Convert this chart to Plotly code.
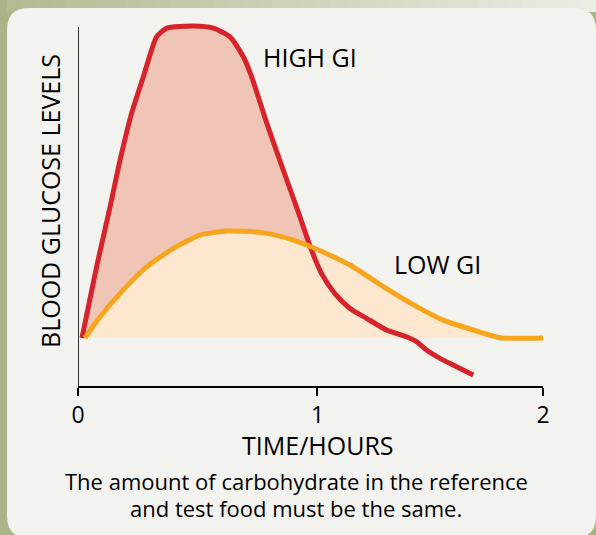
import numpy as np
import plotly.graph_objects as go

# ---------------- data ----------------
high_gi_time = [0.017, 0.080, 0.138, 0.181, 0.231, 0.281, 0.338, 0.382, 0.496, 0.582,
                0.654, 0.711, 0.747, 0.812, 0.898, 0.946, 1.004, 1.047, 1.104, 1.170,
                1.241, 1.327, 1.413, 1.456, 1.499, 1.557, 1.628, 1.700]
high_gi_level = [0, 23.1, 42.6, 57.8, 73.1, 84.8, 97.8, 100.6, 101.3, 100.6,
                 97.8, 91.3, 84.8, 69.7, 51.3, 41.2, 28.6, 21.0, 14.5, 9.6,
                 6.4, 2.6, 0.4, -1.2, -3.9, -6.6, -9.3, -12.0]
low_gi_time = [0.030, 0.095, 0.181, 0.295, 0.410, 0.525, 0.640, 0.783, 0.869, 0.984,
               1.098, 1.170, 1.313, 1.457, 1.571, 1.700, 1.815, 2.000]
low_gi_level = [0, 6.9, 14.5, 23.1, 29.1, 33.4, 34.7, 34.3, 33.1, 30.2,
                26.4, 23.7, 16.7, 10.2, 5.8, 2.6, 0.1, 0]
x_tick_vals = [0, 1.03, 2]          # the "1" mark sits slightly right of centre in the artwork
x_tick_text = ["0", "1", "2"]

# ---------------- geometry helpers ----------------
W, H = 596, 535
L, R, T, B = 78, 53, 18, 149
PW, PH = W - L - R, H - T - B


def fx(px):
    return (px - L) / PW


def fy(py):
    return (H - B - py) / PH


FONT = "Open Sans"
RED = "#d6232c"
ORANGE = "#f7a51c"
PINK = "#f0c5b5"
CREAM = "#fde8cf"

fig = go.Figure()

red_clipped = np.maximum(np.array(high_gi_level, dtype=float), 0)
fig.add_trace(go.Scatter(x=high_gi_time, y=red_clipped, mode="lines",
                         line=dict(width=0, shape="spline", smoothing=0.6),
                         fill="tozeroy", fillcolor=PINK, hoverinfo="skip"))
fig.add_trace(go.Scatter(x=low_gi_time, y=low_gi_level, mode="lines",
                         line=dict(width=0, shape="spline", smoothing=0.6),
                         fill="tozeroy", fillcolor=CREAM, hoverinfo="skip"))
fig.add_trace(go.Scatter(x=high_gi_time, y=high_gi_level, mode="lines", name="HIGH GI",
                         line=dict(color=RED, width=5, shape="spline", smoothing=0.6)))
fig.add_trace(go.Scatter(x=low_gi_time, y=low_gi_level, mode="lines", name="LOW GI",
                         line=dict(color=ORANGE, width=5, shape="spline", smoothing=0.6)))

shapes = []
# top gradient strip
n = 40
c0 = np.array([178, 187, 146])
c1 = np.array([234, 237, 228])
for i in range(n):
    a = i / (n - 1)
    c = (c0 * (1 - a) + c1 * a).astype(int)
    x0 = 7 + (W - 7) * i / n
    x1 = 7 + (W - 7) * (i + 1) / n + 1
    shapes.append(dict(type="rect", xref="paper", yref="paper",
                       x0=fx(x0), x1=fx(x1), y0=fy(0), y1=fy(12),
                       line=dict(width=0), fillcolor=f"rgb({c[0]},{c[1]},{c[2]})",
                       layer="below"))
# rounded panel
pl, pt, pr, pb, r = 7, 8, 596, 538, 22
path = (f"M {fx(pl + r)},{fy(pt)} L {fx(pr - r)},{fy(pt)} "
        f"Q {fx(pr)},{fy(pt)} {fx(pr)},{fy(pt + r)} "
        f"L {fx(pr)},{fy(pb - r)} Q {fx(pr)},{fy(pb)} {fx(pr - r)},{fy(pb)} "
        f"L {fx(pl + r)},{fy(pb)} Q {fx(pl)},{fy(pb)} {fx(pl)},{fy(pb - r)} "
        f"L {fx(pl)},{fy(pt + r)} Q {fx(pl)},{fy(pt)} {fx(pl + r)},{fy(pt)} Z")
shapes.append(dict(type="path", xref="paper", yref="paper", path=path,
                   fillcolor="#f2f3ee", line=dict(width=0), layer="below"))
# y axis line
shapes.append(dict(type="line", xref="x", yref="paper", x0=0, x1=0,
                   y0=0, y1=fy(27), line=dict(color="black", width=1.6)))

ann = []


def text(s, px, py, size, angle=0):
    ann.append(dict(text=s, x=fx(px), y=fy(py), xref="paper", yref="paper",
                    showarrow=False, xanchor="center", yanchor="middle",
                    textangle=angle, font=dict(family=FONT, size=size, color="black")))


text("HIGH GI", 310, 57, 25)
text("LOW GI", 437, 264, 25)
text("BLOOD GLUCOSE LEVELS", 50, 201, 25, -90)
text("TIME/HOURS", 318, 445, 25)
text("The amount of carbohydrate in the reference", 296, 481, 22)
text("and test food must be the same.", 296, 508, 22)

fig.update_layout(
    width=W, height=H,
    margin=dict(l=L, r=R, t=T, b=B, pad=0),
    paper_bgcolor="#aab488",
    plot_bgcolor="rgba(0,0,0,0)",
    showlegend=False,
    shapes=shapes,
    annotations=ann,
    xaxis=dict(range=[0, 2], tickvals=x_tick_vals, ticktext=x_tick_text,
               showgrid=False, zeroline=False, showline=True, linecolor="black",
               linewidth=1.6, ticks="outside", ticklen=8, tickwidth=1.6,
               tickcolor="black", tickfont=dict(family=FONT, size=23, color="black")),
    yaxis=dict(range=[-48 / 3.08, 320 / 3.08], showgrid=False, zeroline=False,
               showline=False, showticklabels=False, ticks=""),
)

fig.write_html("out.html", config={"displayModeBar": False},
               post_script="document.body.style.margin='0';document.body.style.background='#aab488';")
